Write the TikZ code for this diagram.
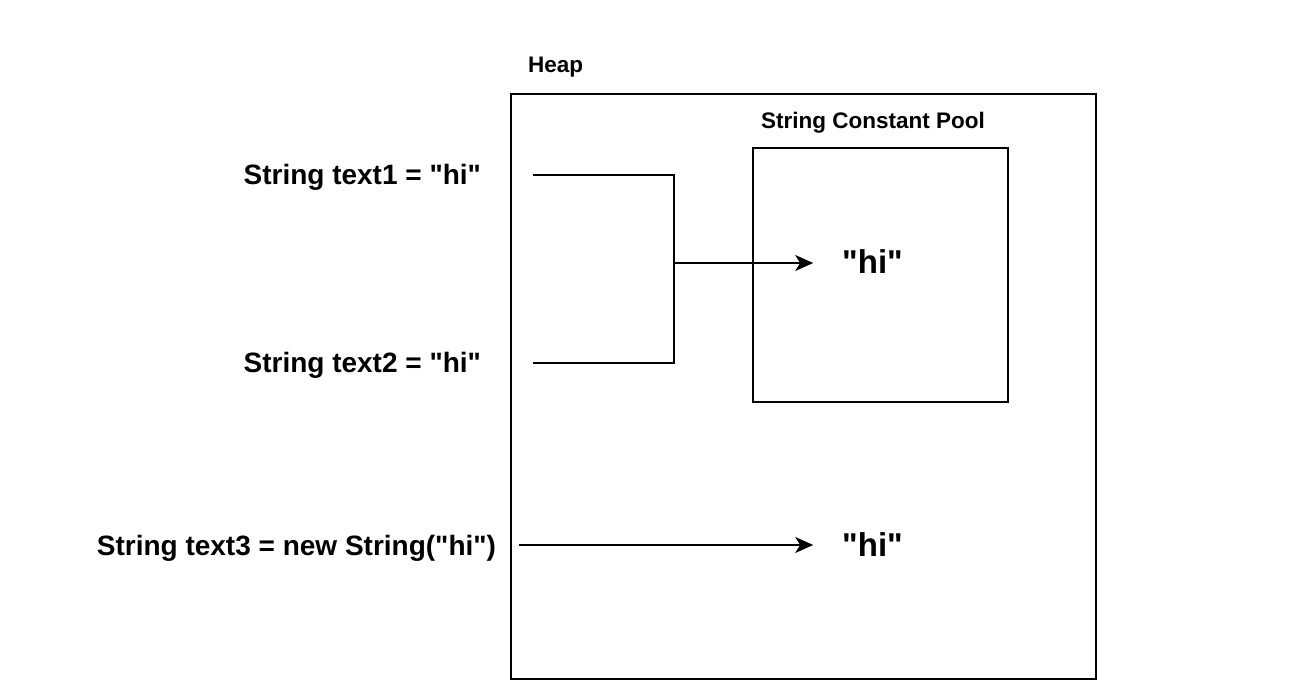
\documentclass[tikz,border=0pt]{standalone}
\usepackage{fontspec}
\setmainfont{Liberation Sans}
\usetikzlibrary{arrows.meta}
\newcommand{\qhi}{\textquotedbl hi\textquotedbl}

\begin{document}
\begin{tikzpicture}[x=1pt, y=-1pt, line width=2pt,
        >={Stealth[length=18pt, width=16pt, inset=5pt]},
        every node/.style={inner sep=0pt, font=\bfseries},
        decl/.style={anchor=base east, font=\bfseries\fontsize{28}{32}\selectfont},
        strval/.style={anchor=base, inner xsep=28pt, font=\bfseries\fontsize{33}{38}\selectfont},
        caption/.style={font=\bfseries\fontsize{22.5}{26}\selectfont}]
        \useasboundingbox (0,0) rectangle (1314,692);

        % memory areas
        \node[draw, anchor=north west, minimum width=585pt, minimum height=585pt] (heap) at (510,93) {};
        \node[draw, anchor=north west, minimum width=255pt, minimum height=254pt] (pool) at (752,147) {};
        \node[caption, anchor=base west] (heaplbl) at (527,73) {Heap};
        \node[caption, anchor=base] (poollbl) at (873,129) {String Constant Pool};

        % declarations
        \node[decl] (t1) at (482,185) {String text1 = \qhi};
        \node[decl] (t2) at (482,373) {String text2 = \qhi};
        \node[decl] (t3) at (497,555) {String text3 = new String(\qhi)};

        % string objects
        \node[strval] (hi1) at (872.5,274) {\qhi};
        \node[strval] (hi2) at (872.5,556) {\qhi};

        \coordinate (s1)   at (533,175);
        \coordinate (s2)   at (533,363);
        \coordinate (s3)   at (519,545);
        \coordinate (fork) at (674,263);
        \draw (s1) -| (fork) |- (s2);
        \draw[->] (fork) -- (fork -| hi1.west);
        \draw[->] (s3) -- (s3 -| hi2.west);
\end{tikzpicture}
\end{document}
